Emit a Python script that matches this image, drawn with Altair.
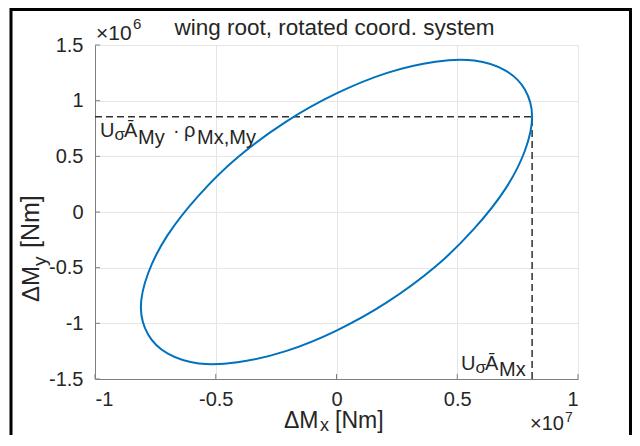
import altair as alt
import pandas as pd

# Ellipse outline (x in 1e7 Nm, y in 1e6 Nm)
ellipse_x = [0.81, 0.78, 0.70, 0.57, 0.41, 0.21, 0.00, -0.21, -0.41, -0.57, -0.70, -0.78,
             -0.81, -0.78, -0.70, -0.57, -0.41, -0.21, 0.00, 0.21, 0.41, 0.57, 0.70, 0.78]
ellipse_y = [0.855, 1.10, 1.27, 1.36, 1.35, 1.25, 1.065, 0.81, 0.49, 0.15, -0.21, -0.55,
             -0.855, -1.10, -1.27, -1.36, -1.35, -1.25, -1.065, -0.81, -0.49, -0.15, 0.21, 0.55]
x_ticks = [-1, -0.5, 0, 0.5, 1]
y_ticks = [-1.5, -1, -0.5, 0, 0.5, 1, 1.5]
x_domain = [-1, 1]
y_domain = [-1.5, 1.5]
corner_x = 0.81     # U_sigma * A_Mx
corner_y = 0.855    # U_sigma * A_My * rho

W, H = 483, 334
FONT = "Liberation Sans"
TXT = "#262626"
BLUE = "#0072BD"

xs = alt.Scale(domain=x_domain, nice=False, zero=False)
ys = alt.Scale(domain=y_domain, nice=False, zero=False)
lab = "replace(format(datum.value, '~g'), '−', '-')"

ell = pd.DataFrame({"x": ellipse_x, "y": ellipse_y, "i": list(range(len(ellipse_x)))})

ellipse = alt.Chart(ell).mark_line(color=BLUE, strokeWidth=2, interpolate="cardinal-closed").encode(
    x=alt.X("x:Q", scale=xs, axis=alt.Axis(values=x_ticks, title=None, labelExpr=lab, grid=True,
                                           ticks=False, labelPadding=10)),
    y=alt.Y("y:Q", scale=ys, axis=alt.Axis(values=y_ticks, title=None, labelExpr=lab, grid=True,
                                           ticks=False, labelPadding=12)),
    order="i:Q",
)

xt = alt.Chart(pd.DataFrame({"t": x_ticks})).mark_rule(color="#7f7f7f").encode(
    x=alt.X("t:Q", scale=xs), y=alt.value(H), y2=alt.value(H - 5))
yt = alt.Chart(pd.DataFrame({"t": y_ticks})).mark_rule(color="#7f7f7f").encode(
    y=alt.Y("t:Q", scale=ys), x=alt.value(0), x2=alt.value(5))

hdash = alt.Chart(pd.DataFrame({"a": [x_domain[0]], "b": [corner_x], "c": [corner_y]})).mark_rule(
    color="#303030", strokeWidth=1.5, strokeDash=[7, 4]).encode(
    x=alt.X("a:Q", scale=xs), x2="b:Q", y=alt.Y("c:Q", scale=ys))
vdash = alt.Chart(pd.DataFrame({"a": [y_domain[0]], "b": [corner_y], "c": [corner_x]})).mark_rule(
    color="#303030", strokeWidth=1.5, strokeDash=[7, 4]).encode(
    y=alt.Y("a:Q", scale=ys), y2="b:Q", x=alt.X("c:Q", scale=xs))

dummy = pd.DataFrame({"d": [0]})


def txt(s, x, y, size, angle=0, align="left", baseline="alphabetic"):
    kw = dict(text=s, font=FONT, fontSize=size, color=TXT, align=align, baseline=baseline)
    if angle:
        kw["angle"] = angle
    return alt.Chart(dummy).mark_text(**kw).encode(x=alt.value(x), y=alt.value(y))


texts = [
    # title
    txt("wing root, rotated coord. system", W / 2 - 2, -10, 22.5, align="center"),
    # exponent markers
    txt("×10", 1, -5, 21), txt("6", 38, -16, 15),
    txt("×10", 435, 385, 20), txt("7", 470, 377, 14),
    # x label
    txt("ΔM", 189, 383, 23), txt("x", 225, 386, 18), txt("[Nm]", 240, 383, 23),
    # y label (rotated)
    txt("ΔM", -56, 257, 24, angle=270), txt("y", -49, 221, 19, angle=270),
    txt("[Nm]", -56, 203, 25, angle=270),
    # upper annotation
    txt("U", 5, 92, 20), txt("σ", 19.5, 95, 17), txt("Ā", 29, 92, 20), txt("My", 43, 99, 20),
    txt("·", 78, 92, 20), txt("ρ", 89, 92, 20), txt("Mx,My", 102, 99, 20),
    # lower annotation
    txt("U", 366, 325, 20), txt("σ", 380.5, 328, 17), txt("Ā", 390, 325, 20), txt("Mx", 404, 331, 20),
]

frame = alt.Chart(dummy).mark_rect(filled=False, stroke="black", strokeWidth=3).encode(
    x=alt.value(-84), x2=alt.value(535.5), y=alt.value(-35.5), y2=alt.value(420))

chart = alt.layer(xt, yt, hdash, vdash, ellipse, *texts, frame).properties(
    width=W, height=H,
    autosize=alt.AutoSizeParams(type="none"),
    padding={"left": 87, "top": 37, "right": 54, "bottom": 56},
).configure_view(stroke="#d0d0d0", strokeWidth=1).configure_axis(
    domainColor="#7f7f7f", gridColor="#e6e6e6", labelFont=FONT, labelFontSize=20,
    labelColor=TXT,
)

chart.save("out.html", embed_options={"renderer": "svg", "actions": False})
